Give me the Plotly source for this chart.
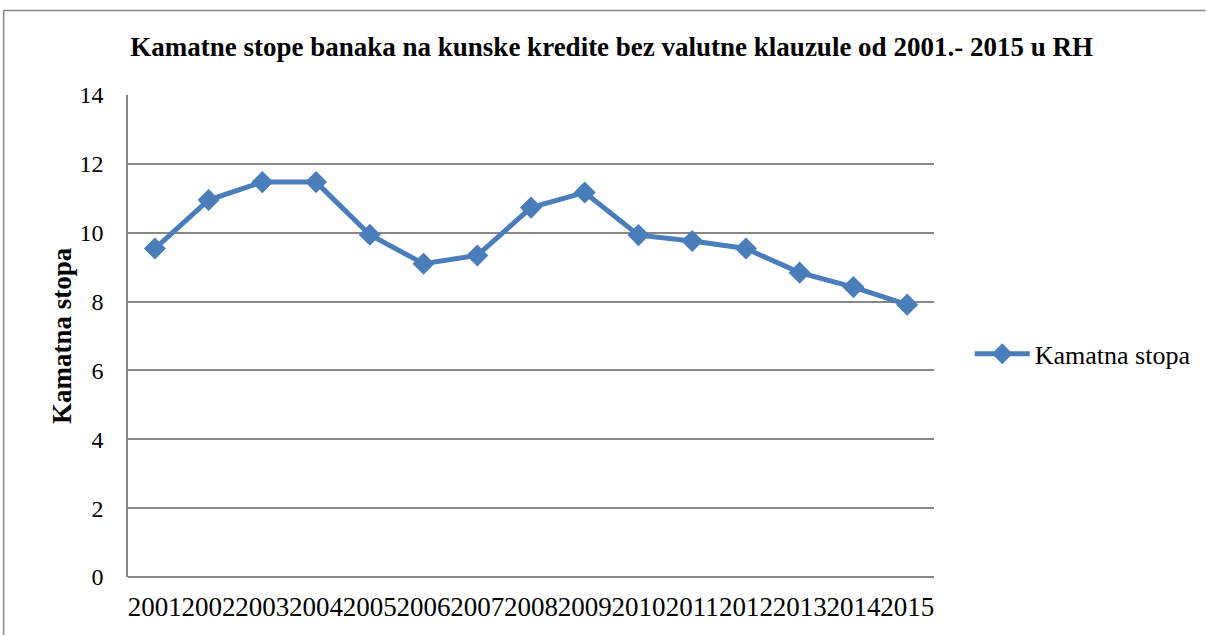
import plotly.graph_objects as go

years = ["2001", "2002", "2003", "2004", "2005", "2006", "2007", "2008",
         "2009", "2010", "2011", "2012", "2013", "2014", "2015"]
rates = [9.54, 10.95, 11.47, 11.47, 9.94, 9.10, 9.34, 10.73,
         11.17, 9.93, 9.76, 9.54, 8.84, 8.42, 7.91]
series_name = "Kamatna stopa"
title_text = "Kamatne stope banaka na kunske kredite bez valutne klauzule od 2001.- 2015 u RH"
y_title = "Kamatna stopa"

BLUE = "#4a7ebb"
GRID = "#878787"
FONT = "Liberation Serif"

fig = go.Figure()
fig.add_trace(go.Scatter(
    x=years, y=rates, name=series_name, mode="lines+markers",
    line=dict(color=BLUE, width=5),
    marker=dict(symbol="diamond", size=17, color=BLUE),
))

fig.update_layout(
    width=1207, height=635,
    margin=dict(l=128, r=272, t=95, b=58),
    paper_bgcolor="white", plot_bgcolor="white",
    font=dict(family=FONT, color="black", size=24),
    title=dict(text="<b>" + title_text + "</b>", x=0.6, xref="paper",
               xanchor="center", y=1 - 47 / 635, yanchor="middle",
               font=dict(family=FONT, size=27, color="black")),
    showlegend=True,
    legend=dict(x=1.043, xanchor="left", y=0.463, yanchor="middle",
                font=dict(family=FONT, size=26, color="black"),
                bgcolor="rgba(0,0,0,0)", itemwidth=55),
    xaxis=dict(type="category", range=[-0.5, 14.5], showgrid=False,
               showline=False, zeroline=False, ticks="", tickangle=0,
               tickfont=dict(family=FONT, size=27, color="black"),
               ticklabelstandoff=11),
    yaxis=dict(range=[0, 14], dtick=2, tick0=0, showgrid=True,
               gridcolor=GRID, gridwidth=1.5, zeroline=True,
               zerolinecolor=GRID, zerolinewidth=1.5,
               showline=True, linecolor=GRID, linewidth=1.5,
               ticks="", tickfont=dict(family=FONT, size=24, color="black"),
               ticklabelstandoff=18),
    annotations=[dict(text="<b>" + y_title + "</b>", xref="paper", yref="paper",
                      x=(62 - 128) / 807, y=(577 - 336) / 482,
                      xanchor="center", yanchor="middle", textangle=-90,
                      showarrow=False,
                      font=dict(family=FONT, size=27, color="black"))],
    shapes=[
        dict(type="line", xref="paper", yref="paper",
             x0=(3 - 128) / 807, x1=(1207 - 128) / 807,
             y0=(577 - 10.5) / 482, y1=(577 - 10.5) / 482,
             line=dict(color=GRID, width=1.5), layer="above"),
        dict(type="line", xref="paper", yref="paper",
             x0=(3.5 - 128) / 807, x1=(3.5 - 128) / 807,
             y0=(577 - 10.5) / 482, y1=(577 - 640) / 482,
             line=dict(color=GRID, width=1.5), layer="above"),
    ],
)

fig.write_html("out.html", config={"displayModeBar": False},
               post_script="document.body.style.margin='0';document.body.style.overflow='hidden';")
